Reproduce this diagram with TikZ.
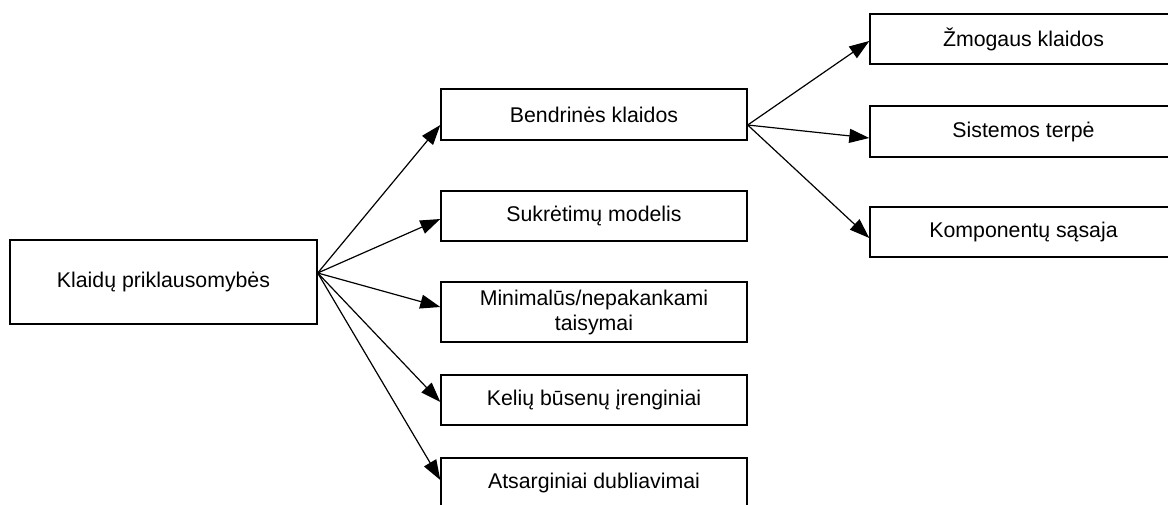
\documentclass[tikz,border=0pt]{standalone}
\usepackage{fontspec}
\setmainfont{Liberation Sans}
\usetikzlibrary{arrows.meta}
\begin{document}
\begin{tikzpicture}[x=1pt,y=-1pt,
  box/.style={draw,line width=1.4pt,rectangle,inner sep=0pt,align=center,
    font=\fontsize{21.3}{25}\selectfont},
  mbox/.style={box,minimum width=306pt,minimum height=51pt},
  rbox/.style={box,minimum width=307pt,minimum height=51pt},
  arr/.style={line width=1.2pt,-{Triangle[length=20pt,width=14pt]}}]
\useasboundingbox (0,0) rectangle (1168,504);
\node[box,minimum width=307pt,minimum height=84pt] (k) at (163.5,282) {Klaidų priklausomybės};
\node[mbox] (b) at (594,114.5) {Bendrinės klaidos};
\node[mbox,minimum height=50pt] (s) at (594,216) {Sukrėtimų modelis};
\node[mbox,minimum height=60pt] (m) at (594,312) {Minimalūs/nepakankami\\taisymai};
\node[mbox,minimum height=50pt] (ke) at (594,400) {Kelių būsenų įrenginiai};
\node[mbox,minimum height=50pt] (a) at (594,483) {Atsarginiai dubliavimai};
\node[rbox,minimum height=50pt] (z) at (1023.5,39) {Žmogaus klaidos};
\node[rbox] (st) at (1023.5,131.5) {Sistemos terpė};
\node[rbox,minimum height=50pt] (ko) at (1023.5,232) {Komponentų sąsaja};
\coordinate (ko0) at ([yshift=9pt]k.east);
\coordinate (bo0) at ([yshift=-10.5pt]b.east);
\draw[arr] (ko0) -- ([yshift=-10.5pt]b.west);
\draw[arr] (ko0) -- ([yshift=-3pt]s.west);
\draw[arr] (ko0) -- ([yshift=5pt]m.west);
\draw[arr] (ko0) -- ([yshift=-2pt]ke.west);
\draw[arr] (ko0) -- ([yshift=3pt]a.west);
\draw[arr] (bo0) -- ([yshift=-2pt]z.west);
\draw[arr] (bo0) -- ([yshift=-6.5pt]st.west);
\draw[arr] (bo0) -- ([yshift=-6pt]ko.west);
\end{tikzpicture}
\end{document}
